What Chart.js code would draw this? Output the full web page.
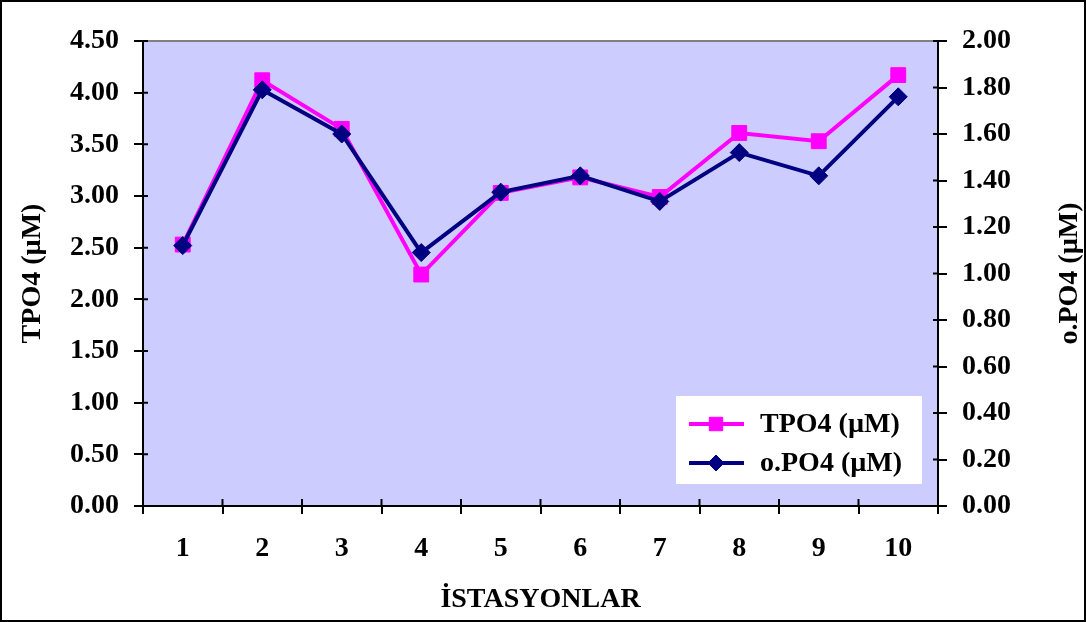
<!DOCTYPE html>
<html>
<head>
<meta charset="utf-8">
<script src="https://cdn.jsdelivr.net/npm/chart.js@4"></script>
<style>
body { margin: 0; background: #fff; }
#wrap { width: 1086px; height: 622px; box-sizing: border-box; border: 2px solid #000; }
canvas { display: block; }
</style>
</head>
<body>
<div id="wrap"><canvas id="myChart" width="1082" height="618"></canvas></div>
<script>
const stations = ["1", "2", "3", "4", "5", "6", "7", "8", "9", "10"];
const tpo4 = [2.53, 4.12, 3.65, 2.24, 3.03, 3.18, 2.99, 3.61, 3.53, 4.17];
const opo4 = [1.12, 1.79, 1.60, 1.09, 1.35, 1.42, 1.31, 1.52, 1.42, 1.76];
const leftTicks = { min: 0, max: 4.5, step: 0.5 };
const rightTicks = { min: 0, max: 2.0, step: 0.2 };

const pink = "#ff00ff";
const navy = "#000080";
const fontFamily = "'Liberation Serif', 'Times New Roman', serif";
const font = { family: fontFamily, size: 28, weight: "bold" };

// plot background, top edge, inner tick parts, right title (reads bottom to top)
const plotBits = {
  id: "plotBits",
  beforeDraw(chart) {
    const a = chart.chartArea;
    const ctx = chart.ctx;
    ctx.save();
    ctx.fillStyle = "#ccccff";
    ctx.fillRect(a.left, a.top, a.right - a.left, a.bottom - a.top);
    ctx.strokeStyle = "#808080";
    ctx.lineWidth = 2;
    ctx.beginPath();
    ctx.moveTo(a.left, a.top);
    ctx.lineTo(a.right, a.top);
    ctx.stroke();
    ctx.restore();
  },
  afterDatasetsDraw(chart) {
    const a = chart.chartArea;
    const ctx = chart.ctx;
    ctx.save();
    ctx.strokeStyle = "#000";
    ctx.lineWidth = 2;
    ctx.beginPath();
    chart.scales.y.ticks.forEach(function (t) {
      const py = chart.scales.y.getPixelForValue(t.value);
      ctx.moveTo(a.left, py);
      ctx.lineTo(a.left + 5, py);
    });
    chart.scales.y1.ticks.forEach(function (t) {
      const py = chart.scales.y1.getPixelForValue(t.value);
      ctx.moveTo(a.right, py);
      ctx.lineTo(a.right - 5, py);
    });
    const n = stations.length;
    for (let i = 0; i <= n; i++) {
      const px = a.left + i * (a.right - a.left) / n;
      ctx.moveTo(px, a.bottom);
      ctx.lineTo(px, a.bottom - 7);
    }
    ctx.stroke();

    const s = chart.scales.y1;
    ctx.translate(s.right - 14, (a.top + a.bottom) / 2);
    ctx.rotate(-Math.PI / 2);
    ctx.fillStyle = "#000";
    ctx.font = "bold 28px " + fontFamily;
    ctx.textAlign = "center";
    ctx.textBaseline = "middle";
    ctx.fillText(s.options.title.text, 0, 0);
    ctx.restore();
  }
};

// legend box inside the plot, bottom right
const boxLegend = {
  id: "boxLegend",
  afterDraw(chart) {
    const a = chart.chartArea;
    const ctx = chart.ctx;
    const w = 246, h = 88;
    const x0 = a.right - 16 - w;
    const y0 = a.bottom - 22 - h;
    ctx.save();
    ctx.fillStyle = "#fff";
    ctx.fillRect(x0, y0, w, h);
    ctx.font = "bold 28px " + fontFamily;
    ctx.textBaseline = "middle";
    chart.data.datasets.forEach(function (ds, i) {
      const cy = y0 + 28 + i * 39;
      ctx.strokeStyle = ds.borderColor;
      ctx.lineWidth = 4;
      ctx.beginPath();
      ctx.moveTo(x0 + 13, cy);
      ctx.lineTo(x0 + 68, cy);
      ctx.stroke();
      ctx.fillStyle = ds.pointBackgroundColor;
      ctx.strokeStyle = ds.pointBorderColor;
      ctx.lineWidth = 1;
      Chart.helpers.drawPoint(ctx, {
        pointStyle: ds.pointStyle,
        radius: ds.pointRadius - 1,
        borderWidth: 1
      }, x0 + 40, cy);
      ctx.fillStyle = "#000";
      ctx.fillText(ds.label, x0 + 84, cy + 1);
    });
    ctx.restore();
  }
};

const ctx = document.getElementById("myChart");
const myChart = new Chart(ctx, {
  type: "line",
  data: {
    labels: stations,
    datasets: [{
      label: "TPO4 (µM)",
      data: tpo4,
      yAxisID: "y",
      borderColor: pink,
      backgroundColor: pink,
      pointBackgroundColor: pink,
      pointBorderColor: pink,
      pointStyle: "rect",
      pointRadius: 10.5,
      pointBorderWidth: 1,
      borderWidth: 4,
      tension: 0,
      order: 1
    }, {
      label: "o.PO4 (µM)",
      data: opo4,
      yAxisID: "y1",
      borderColor: navy,
      backgroundColor: navy,
      pointBackgroundColor: navy,
      pointBorderColor: navy,
      pointStyle: "rectRot",
      pointRadius: 9,
      pointBorderWidth: 1,
      borderWidth: 4,
      tension: 0,
      order: 0
    }]
  },
  options: {
    responsive: false,
    animation: false,
    devicePixelRatio: 1,
    layout: { padding: { top: 39, left: 0, right: 0, bottom: 0 } },
    plugins: { legend: { display: false }, tooltip: { enabled: false } },
    scales: {
      x: {
        offset: true,
        grid: { offset: true, drawOnChartArea: false, color: "#000", lineWidth: 2, tickLength: 8 },
        border: { color: "#000", width: 2 },
        ticks: { color: "#000", font: font, padding: 18, maxRotation: 0 },
        title: { display: true, text: "İSTASYONLAR", color: "#000", font: font, padding: { top: 0, bottom: 3 } },
        afterFit(s) { s.height = 114; }
      },
      y: {
        position: "left",
        min: leftTicks.min,
        max: leftTicks.max,
        grid: { drawOnChartArea: false, color: "#000", lineWidth: 2, tickLength: 9 },
        border: { color: "#000", width: 2 },
        ticks: {
          stepSize: leftTicks.step, color: "#000", font: font, padding: 15,
          callback: function (v) { return v.toFixed(2); }
        },
        title: { display: true, text: "TPO4 (µM)", color: "#000", font: font, padding: { top: 14, bottom: 0 } },
        afterFit(s) { s.width = 141; }
      },
      y1: {
        position: "right",
        min: rightTicks.min,
        max: rightTicks.max,
        grid: { drawOnChartArea: false, color: "#000", lineWidth: 2, tickLength: 9 },
        border: { color: "#000", width: 2 },
        ticks: {
          stepSize: rightTicks.step, color: "#000", font: font, padding: 15,
          callback: function (v) { return v.toFixed(2); }
        },
        title: { display: false, text: "o.PO4 (µM)" },
        afterFit(s) { s.width = 146; }
      }
    }
  },
  plugins: [plotBits, boxLegend]
});
</script>
</body>
</html>
